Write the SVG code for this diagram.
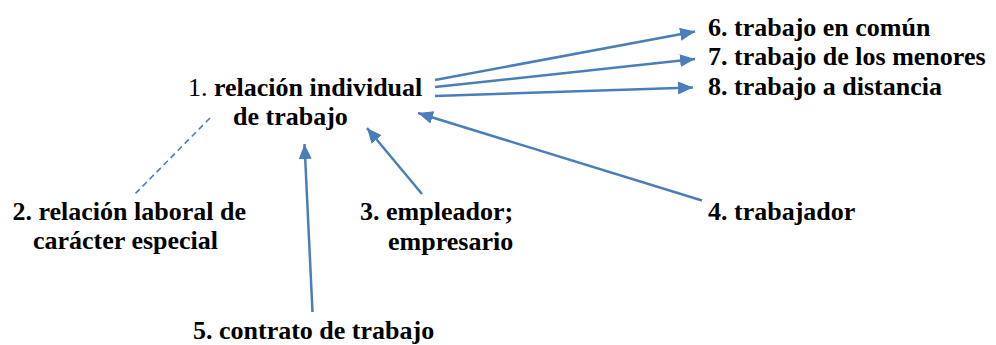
<svg xmlns="http://www.w3.org/2000/svg" width="996" height="345" viewBox="0 0 996 345" font-family="'Liberation Serif', 'Times New Roman', Times, 'DejaVu Serif', serif">
  <style>
    text { font-family: 'Liberation Serif', 'Times New Roman', Times, 'DejaVu Serif', serif; font-size: 26px; font-weight: bold; fill: #000; }
    .n { font-weight: normal; }
    .arrow { stroke: #4A7EBB; stroke-width: 2.5; fill: none; marker-end: url(#head); }
    .dash { stroke: #4A7EBB; stroke-width: 1.6; fill: none; stroke-dasharray: 6 4; }
  </style>
  <defs>
    <marker id="head" markerUnits="userSpaceOnUse" markerWidth="16" markerHeight="14" refX="15" refY="6.5" orient="auto">
      <path d="M0,0 L15,6.5 L0,13 z" fill="#4A7EBB"/>
    </marker>
  </defs>
  <rect width="996" height="345" fill="#fff"/>
  <g id="connectors">
    <line class="arrow" x1="435" y1="80" x2="695" y2="31.5"/>
    <line class="arrow" x1="435" y1="87" x2="695" y2="59"/>
    <line class="arrow" x1="435" y1="96" x2="693" y2="87.5"/>
    <line class="dash" x1="210" y1="118" x2="133" y2="196"/>
    <line class="arrow" x1="422" y1="194" x2="367" y2="128"/>
    <line class="arrow" x1="702" y1="200.5" x2="418" y2="113"/>
    <line class="arrow" x1="312.5" y1="312" x2="304.5" y2="144"/>
  </g>
  <g id="n1">
    <text x="188" y="96"><tspan class="n">1. </tspan>relación individual</text>
    <text x="233" y="125">de trabajo</text>
  </g>
  <g id="n2">
    <text x="12.5" y="220">2. relación laboral de</text>
    <text x="33" y="249">carácter especial</text>
  </g>
  <g id="n3">
    <text x="360" y="220">3. empleador;</text>
    <text x="388" y="250">empresario</text>
  </g>
  <g id="n4">
    <text x="708" y="220">4. trabajador</text>
  </g>
  <g id="n5">
    <text x="193" y="339">5. contrato de trabajo</text>
  </g>
  <g id="n6">
    <text x="708" y="36">6. trabajo en común</text>
  </g>
  <g id="n7">
    <text x="708" y="65">7. trabajo de los menores</text>
  </g>
  <g id="n8">
    <text x="708" y="94.5">8. trabajo a distancia</text>
  </g>
</svg>
